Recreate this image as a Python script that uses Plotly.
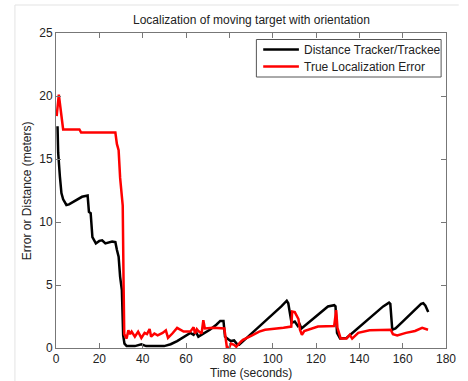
import plotly.graph_objects as go

# Data
black_t = [0.7, 1.0, 1.8, 2.5, 3.3, 4.8, 6.0, 9.3, 12.0, 14.6, 15.2, 16.0, 16.8, 18.4, 20.0, 21.3, 22.8,
           25.9, 27.4, 28.1, 28.9, 29.6, 30.4, 31.0, 31.6, 32.6, 36.4, 39.4, 41.6, 49.9, 52.9, 55.9,
           58.9, 62.0, 63.5, 64.5, 65.7, 68.0, 71.0, 74.0, 75.8, 77.3, 78.0, 79.5, 80.7, 82.2, 83.8,
           84.5, 90.0, 95.0, 100.0, 104.0, 106.5, 107.2, 108.7, 110.2, 111.6, 112.4, 113.3, 114.0,
           118.0, 122.0, 125.5, 128.4, 129.0, 129.7, 131.1, 134.1, 138.6, 143.0, 148.0, 151.0, 153.7,
           154.3, 155.2, 156.7, 160.0, 165.0, 168.5, 169.5, 170.5, 171.8]
black_v = [17.6, 15.5, 13.6, 12.3, 11.8, 11.35, 11.4, 11.75, 12.0, 12.1, 10.8, 10.7, 8.8, 8.3, 8.5, 8.55, 8.3,
           8.45, 8.4, 7.8, 7.25, 5.65, 4.6, 1.0, 0.35, 0.15, 0.15, 0.3, 0.15, 0.15, 0.3, 0.55,
           0.9, 1.2, 1.05, 1.3, 0.9, 1.15, 1.45, 1.85, 2.15, 2.15, 0.9, 0.7, 0.55, 0.6, 0.25,
           0.25, 1.1, 1.9, 2.65, 3.3, 3.75, 3.55, 2.0, 2.1, 1.75, 1.9, 1.55, 1.65,
           2.2, 2.8, 3.3, 3.4, 3.3, 1.2, 0.75, 0.8, 1.45, 2.1, 2.8, 3.3, 3.6,
           3.5, 1.45, 1.55, 2.1, 2.9, 3.5, 3.55, 3.35, 2.85]

red_t = [0.3, 1.3, 3.3, 10.8, 11.6, 27.4, 28.1, 28.9, 29.6, 30.4, 30.8, 31.2, 31.5, 32.6, 33.4, 34.2, 34.9,
         36.4, 37.9, 39.4, 40.9, 42.0, 43.2, 43.9, 45.4, 46.9, 49.2, 50.7, 51.7, 53.7, 55.9, 58.9,
         62.0, 63.5, 64.2, 65.0, 65.7, 67.2, 68.0, 68.7, 72.5, 77.7, 78.5, 78.9, 80.0, 80.7, 82.2,
         83.2, 85.3, 86.3, 90.5, 93.8, 96.5, 101.0, 105.0, 108.6, 109.0, 110.2, 110.9, 111.9, 112.6,
         113.5, 114.6, 117.9, 120.9, 128.4, 129.3, 129.9, 131.4, 134.1, 135.6, 136.7, 139.5, 144.7,
         154.5, 155.5, 157.5, 161.5, 165.7, 169.0, 171.7]
red_v = [18.4, 20.1, 17.35, 17.35, 17.1, 17.1, 16.2, 15.7, 13.5, 11.5, 11.3, 5.0, 1.1, 0.75, 1.4, 1.1, 1.3,
         0.9, 1.3, 0.8, 1.2, 1.1, 1.5, 0.9, 1.15, 1.0, 1.2, 1.4, 0.8, 1.15, 1.6, 1.3,
         1.3, 1.65, 1.15, 1.5, 1.35, 1.15, 2.2, 1.55, 1.6, 1.55, 0.6, 0.0, 0.05, 0.35, 0.25,
         0.1, 0.5, 0.65, 1.0, 1.3, 1.45, 1.5, 1.6, 1.7, 2.9, 2.85, 2.6, 2.3, 1.45,
         1.05, 1.35, 1.55, 1.7, 1.75, 3.0, 1.6, 0.75, 0.75, 1.05, 0.75, 1.2, 1.4,
         1.45, 1.1, 1.0, 1.2, 1.35, 1.6, 1.45]

x_ticks = [0, 20, 40, 60, 80, 100, 120, 140, 160, 180]
y_ticks = [0, 5, 10, 15, 20, 25]

series_names = ["Distance Tracker/Trackee", "True Localization Error"]
series_colors = ["#000000", "#ff0000"]

FONT = "Liberation Sans, Arial, sans-serif"
TXT = "#222222"

# plot-area geometry in pixels (used to place paper-anchored decorations)
L, R, T, B = 56, 455, 33, 348
W, H = R - L, B - T


def px(x):
    return (x - L) / W


def py(y):
    return (B - y) / H


fig = go.Figure()
fig.add_trace(go.Scatter(x=black_t, y=black_v, mode="lines", name=series_names[0],
                         line=dict(color=series_colors[0], width=2.5), showlegend=False))
fig.add_trace(go.Scatter(x=red_t, y=red_v, mode="lines", name=series_names[1],
                         line=dict(color=series_colors[1], width=2.5), showlegend=False))

axis_common = dict(showgrid=False, zeroline=False, showline=True, linecolor="#777777", linewidth=1,
                   ticks="inside", ticklen=5, tickcolor="#777777", mirror="ticks",
                   tickfont=dict(family=FONT, size=12, color=TXT))

shapes = [
    # light outer frame from the screenshot
    dict(type="line", xref="paper", yref="paper", x0=px(14), x1=px(14), y0=py(5), y1=py(381),
         line=dict(color="#e3e3e3", width=1)),
    dict(type="line", xref="paper", yref="paper", x0=px(14), x1=px(468), y0=py(5), y1=py(5),
         line=dict(color="#e3e3e3", width=1)),
    # legend box
    dict(type="rect", xref="paper", yref="paper", x0=px(261), x1=px(450), y0=py(39.5), y1=py(77),
         line=dict(color="#555555", width=1), fillcolor="white", layer="above"),
]
annotations = [
    dict(text="Localization of moving target with orientation", xref="paper", yref="paper",
         x=0.5, y=py(20), xanchor="center", yanchor="middle", showarrow=False,
         font=dict(family=FONT, size=12, color=TXT)),
    dict(text="Time (seconds)", xref="paper", yref="paper",
         x=0.5, y=py(373), xanchor="center", yanchor="middle", showarrow=False,
         font=dict(family=FONT, size=12, color=TXT)),
    dict(text="Error or Distance (meters)", xref="paper", yref="paper",
         x=px(26), y=0.5, xanchor="center", yanchor="middle", showarrow=False,
         textangle=-90, font=dict(family=FONT, size=12, color=TXT)),
]
row_y = [49.5, 66.5]
for name, color, ry in zip(series_names, series_colors, row_y):
    shapes.append(dict(type="line", xref="paper", yref="paper", x0=px(268), x1=px(304.5),
                       y0=py(ry), y1=py(ry), line=dict(color=color, width=2.5), layer="above"))
    annotations.append(dict(text=name, xref="paper", yref="paper", x=px(308), y=py(ry + 0.5),
                            xanchor="left", yanchor="middle", showarrow=False,
                            font=dict(family=FONT, size=12, color=TXT)))

fig.update_layout(
    width=468, height=381,
    margin=dict(l=L, r=468 - R, t=T, b=381 - B),
    paper_bgcolor="white", plot_bgcolor="white",
    font=dict(family=FONT, size=12, color=TXT),
    showlegend=False,
    xaxis=dict(range=[0, 180], tickvals=x_ticks, **axis_common),
    yaxis=dict(range=[0, 25], tickvals=y_ticks, **axis_common),
    annotations=annotations,
    shapes=shapes,
)

fig.write_html("out.html")
